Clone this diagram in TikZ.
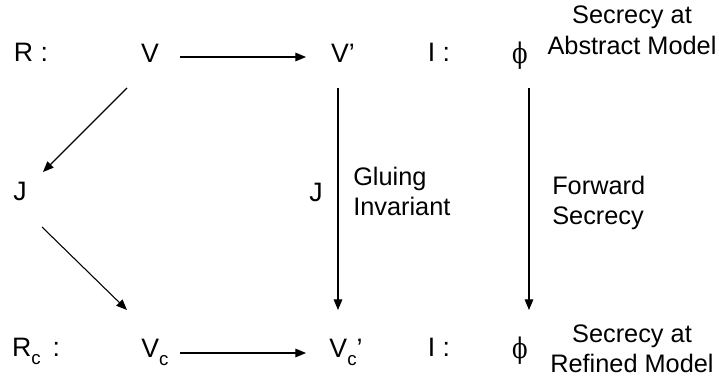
\documentclass[tikz,border=0pt]{standalone}
\usepackage{fontspec}
\usepackage{graphicx}
\setmainfont{Liberation Sans}
\newfontfamily\phifont{DejaVu Serif}
\usetikzlibrary{calc,arrows.meta}
\newcommand{\subc}{\raisebox{-0.3em}{\fontsize{14}{14}\selectfont c}}
\newcommand{\phisign}{\raisebox{-1pt}{\scalebox{0.9}[1.12]{ϕ}}}
\begin{document}
\begin{tikzpicture}[x=0.75pt,y=-0.75pt,
  lbl/.style={font=\fontsize{20}{22}\selectfont, inner sep=0pt, anchor=base},
  note/.style={font=\fontsize{19}{22.5}\selectfont, inner sep=0pt},
  phisym/.style={font=\phifont\fontsize{19}{22}\selectfont, inner sep=0pt, anchor=base},
  arr/.style={line width=0.8pt, -{Triangle[length=8pt,width=6.5pt]}}]
\useasboundingbox (0,0) rectangle (719,381);
% top row
\node[lbl] (R) at (31,62) {R :};
\node[lbl] (V) at (150,63) {V};
\node[lbl] (Vp) at (343,63) {V’};
\node[lbl] (I1) at (439,62) {I :};
\node[phisym] (phi1) at (520,62) {\phisign};
\node[note, align=center, font=\fontsize{19}{23}\selectfont] (SA) at (632,30) {Secrecy at\\Abstract Model};
% middle
\node[lbl] (J) at (20,201) {J};
\node[lbl] (J2) at (316,202) {J};
\node[note, align=left, anchor=west] (GI) at (353,191) {Gluing\\Invariant};
\node[note, align=left, anchor=west] (FS) at (552,203) {Forward\\Secrecy};
% bottom row
\node[lbl] (Rc) at (36,357) {R\subc\ \,:};
\node[lbl] (Vc) at (155,358) {V\subc};
\node[lbl] (Vcp) at (346,358) {V\subc’};
\node[lbl] (I2) at (439,357) {I :};
\node[phisym] (phi2) at (520,357) {\phisign};
\node[note, align=center] (SR) at (632,349) {Secrecy at\\Refined Model};
% connectors
\draw[arr] ($(V.base)+(30,-6)$) -- ($(Vp.base)+(-37,-6)$);
\draw[arr] ($(V.base)+(-23,25)$) -- ($(J.base)+(23,-29)$);
\draw[arr] ($(J.base)+(22,26)$) -- ($(Vc.base)+(-28,-48)$);
\draw[arr] ($(Vp.base)+(-5,25)$) -- ($(Vcp.base)+(-8,-48)$);
\draw[arr] ($(phi1.base)+(9,26)$) -- ($(phi2.base)+(9,-47)$);
\draw[arr] ($(Vc.base)+(25,-5)$) -- ($(Vcp.base)+(-40,-5)$);
\end{tikzpicture}
\end{document}
